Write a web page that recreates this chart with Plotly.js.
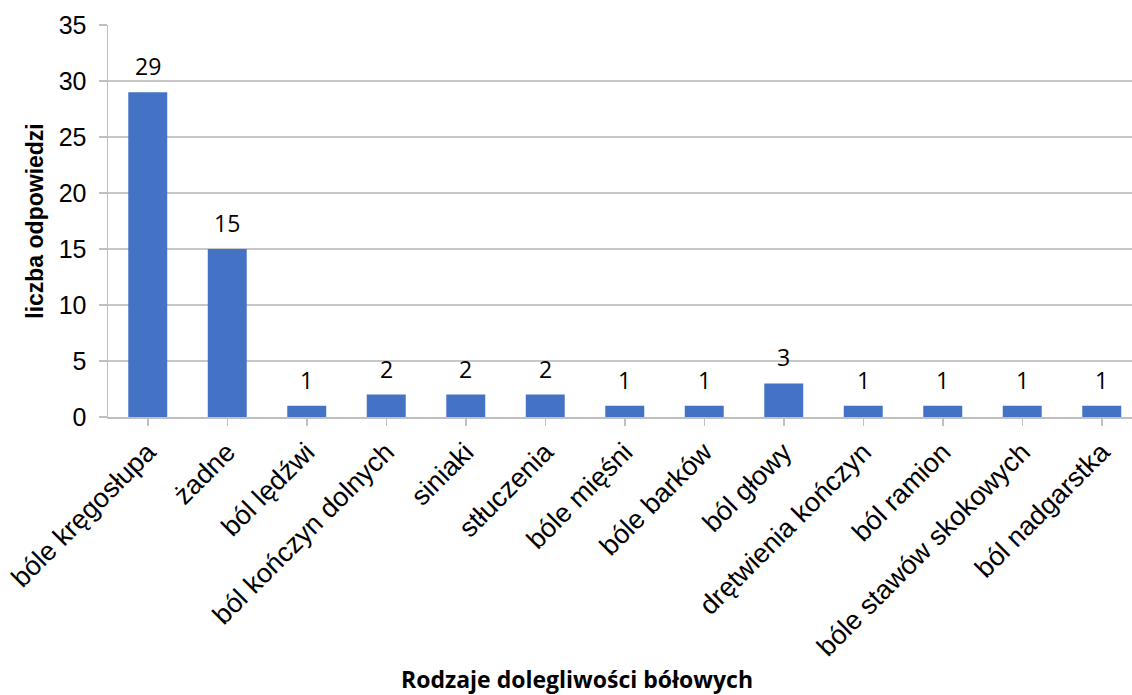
<!DOCTYPE html>
<html><head><meta charset="utf-8">
<script src="https://cdn.plot.ly/plotly-3.0.1.min.js"></script>
<style>html,body{margin:0;padding:0;background:#fff;overflow:hidden}</style>
</head><body>
<div id="chart" style="width:1132px;height:695px"></div>
<script>
const categories = ["bóle kręgosłupa","żadne","ból lędźwi","ból kończyn dolnych","siniaki","stłuczenia","bóle mięśni","bóle barków","ból głowy","drętwienia kończyn","ból ramion","bóle stawów skokowych","ból nadgarstka"];
const values = [29,15,1,2,2,2,1,1,3,1,1,1,1];
const yTicks = [0,5,10,15,20,25,30,35];
const yTitle = "liczba odpowiedzi";
const xTitle = "Rodzaje dolegliwości bółowych";

const idx = categories.map((c,i)=>i);
const trace = {
  type:"bar", x: idx, y: values, width: 0.49,
  marker:{color:"#4472C4", line:{color:"#ffffff", width:0}},
  hoverinfo:"skip"
};
const labels = values.map((v,i)=>({
  x:i, y:v, xref:"x", yref:"y", text:String(v), showarrow:false,
  yanchor:"middle", yshift:26,
  font:{family:"Open Sans, Liberation Sans, sans-serif", size:23, color:"#000"}
}));
labels.push({
  xref:"paper", yref:"paper", x:(577-108)/(1132-108), y:0, yshift:-262,
  xanchor:"center", yanchor:"middle", showarrow:false, text:"<b>"+xTitle+"</b>",
  font:{family:"Open Sans, sans-serif", size:23, color:"#000"}
});
const layout = {
  width:1132, height:695,
  margin:{l:108, r:0, t:25, b:278},
  paper_bgcolor:"#fff", plot_bgcolor:"#fff",
  showlegend:false,
  xaxis:{
    range:[-0.5, -0.5 + (1132-108)/79.5],
    tickmode:"array", tickvals:idx, ticktext:categories,
    tickangle:-45, tickson:"boundaries", ticks:"outside", ticklen:7, tickcolor:"#bfbfbf", tickwidth:1.5,
    showgrid:false, zeroline:false,
    showline:true, linecolor:"#bfbfbf", linewidth:1.5,
    tickfont:{family:"Liberation Sans, Arial, sans-serif", size:27, color:"#000"}
  },
  yaxis:{
    range:[0,35], tickmode:"array", tickvals:yTicks,
    ticks:"outside", ticklen:8, tickcolor:"#bfbfbf", tickwidth:1.5,
    ticklabelstandoff:7,
    showgrid:true, gridcolor:"#c8c8c8", gridwidth:1.5,
    zeroline:false, showline:true, linecolor:"#bfbfbf", linewidth:1.5,
    tickfont:{family:"Liberation Sans, Arial, sans-serif", size:25, color:"#000"},
    title:{text:"<b>"+yTitle+"</b>", standoff:8, font:{family:"Liberation Sans, Arial, sans-serif", size:23, color:"#000"}}
  },
  annotations: labels
};
Plotly.newPlot("chart",[trace],layout,{displayModeBar:false, staticPlot:true});
</script>
</body></html>
